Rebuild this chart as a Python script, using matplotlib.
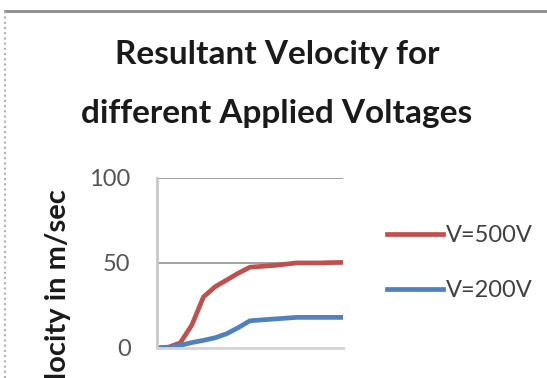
import matplotlib.pyplot as plt
from matplotlib.lines import Line2D

# Velocity (m/sec) sampled every half step
steps = [i * 0.5 for i in range(17)]
v500 = [0, 0.5, 3, 13.5, 30, 36, 40, 44, 47.5, 48, 48.5, 49.2, 50, 50, 50, 50.2, 50.3]
v200 = [0, 0.2, 1.5, 3.2, 4.5, 6, 8.4, 12, 16, 16.5, 17, 17.5, 18, 18, 18, 18, 18]
labels = ['V=500V', 'V=200V']

plt.rcParams['font.family'] = ['Lato', 'DejaVu Sans']

fig = plt.figure(figsize=(5.47, 3.78), dpi=100)
ax = fig.add_axes([0.287, 0.0794, 0.340, 0.450])

ax.plot(steps, v500, color='#C0504D', lw=3.4, label=labels[0])
ax.plot(steps, v200, color='#4F81BD', lw=3.4, label=labels[1])

ax.set_xlim(0, 8)
ax.set_ylim(0, 100)
ax.set_yticks([0, 50, 100])
ax.set_xticks([])
ax.tick_params(axis='y', length=0, pad=19, labelsize=17, labelcolor='#555555')
for y in (50, 100):
    ax.axhline(y, color='#9a9a9a', lw=1.3, zorder=0)
for side in ('top', 'right'):
    ax.spines[side].set_visible(False)
ax.spines['left'].set_color('#c8c8c8')
ax.spines['left'].set_linewidth(2)
ax.spines['bottom'].set_color('#d4d4d4')
ax.spines['bottom'].set_linewidth(2)

fig.text(0.506, 0.855, 'Resultant Velocity for', ha='center', va='center',
         fontsize=24, fontweight='bold', color='#1a1a1a')
fig.text(0.506, 0.70, 'different Applied Voltages', ha='center', va='center',
         fontsize=24, fontweight='bold', color='#1a1a1a')

# axis title runs past the lower edge of the chart area
fig.text(0.106, 0.500, 'Velocity in m/sec', rotation=90, ha='center', va='top',
         fontsize=21, fontweight='bold', color='#1a1a1a')

ax.legend(loc='center left', bbox_to_anchor=(1.12, 0.50), frameon=False,
          fontsize=17, handlelength=2.4, handletextpad=0.1, labelspacing=1.45,
          labelcolor='#404040')

# chart frame edges
fig.add_artist(Line2D([0.009, 1.0], [0.972, 0.972], transform=fig.transFigure,
                      color='#8c8c8c', lw=2))
fig.add_artist(Line2D([0.009, 0.009], [0.0, 0.972], transform=fig.transFigure,
                      color='#b0b0b0', lw=1.5, ls=(0, (1, 1.5))))

fig.savefig('out.png', dpi=100)
